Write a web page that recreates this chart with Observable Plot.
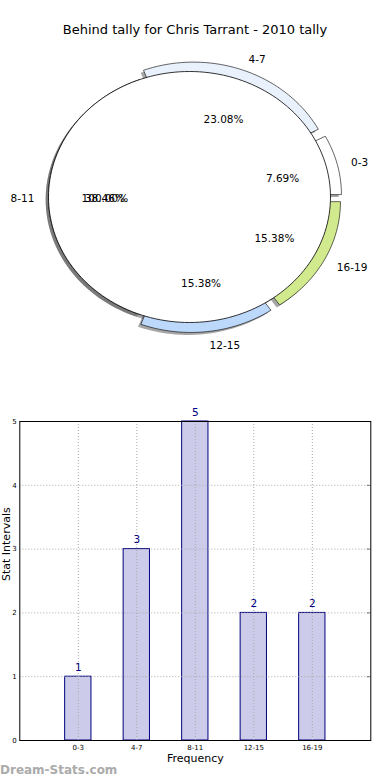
<!DOCTYPE html>
<html>
<head>
<meta charset="utf-8">
<script src="https://cdn.jsdelivr.net/npm/d3@7"></script>
<script src="https://cdn.jsdelivr.net/npm/@observablehq/plot@0.6"></script>
<style>
  html, body { margin: 0; padding: 0; background: #fff; }
  #wrap { position: relative; width: 390px; height: 780px; overflow: hidden; font-family: "DejaVu Sans", sans-serif; }
  #title { position: absolute; left: 0; top: 22px; width: 390px; text-align: center; font-size: 13px; line-height: 16px; color: #000; }
  #pie { position: absolute; left: 0; top: 0; }
  #bar { position: absolute; left: 0; top: 380px; }
  #wm { position: absolute; left: 0; top: 762px; font-size: 12px; font-weight: bold; color: #ababab; line-height: 16px; }
</style>
</head>
<body>
<div id="wrap">
  <div id="pie"></div>
  <div id="title">Behind tally for Chris Tarrant - 2010 tally</div>
  <div id="bar"></div>
  <div id="wm">Dream-Stats.com</div>
</div>
<script>
// ---- data ----
const categories = ["0-3", "4-7", "8-11", "12-15", "16-19"];
const counts = [1, 3, 5, 2, 2];
const yTicks = [0, 1, 2, 3, 4, 5];
const chartTitle = "Behind tally for Chris Tarrant - 2010 tally";
const xLabel = "Frequency";
const yLabel = "Stat Intervals";

// ---- styles ----
const sliceColors = ["#ffffff", "#e9f1fd", "#ffffff", "#bcd8fb", "#d2ea8e"];
const explodeBy = [0.08, 0.08, 0, 0.08, 0.08];
const font = "DejaVu Sans";

// ---- pie geometry (data space, unit radius) ----
const total = d3.sum(counts);
let acc = 0;
const slices = counts.map((c, i) => {
  const t1 = acc / total * 360; acc += c; const t2 = acc / total * 360;
  const mid = (t1 + t2) / 2 * Math.PI / 180;
  const e = explodeBy[i];
  return { i, name: categories[i], c, t1, t2, mid, cx: e * Math.cos(mid), cy: e * Math.sin(mid), pct: (c / total * 100).toFixed(2) + "%" };
});
function wedge(s, ox = 0, oy = 0) {
  const pts = [{x: s.cx + ox, y: s.cy + oy}];
  const n = Math.max(8, Math.ceil((s.t2 - s.t1) / 2));
  for (let k = 0; k <= n; k++) {
    const a = (s.t1 + (s.t2 - s.t1) * k / n) * Math.PI / 180;
    pts.push({x: s.cx + ox + Math.cos(a), y: s.cy + oy + Math.sin(a)});
  }
  pts.push({x: s.cx + ox, y: s.cy + oy});
  return pts;
}
const full = {cx: 0, cy: 0, t1: 0, t2: 360};
const marks = [];
// shadows
slices.forEach(s => marks.push(Plot.line(wedge(s, -0.02, -0.02), {x: "x", y: "y", fill: "#4d4d4d", fillOpacity: 0.5, stroke: "none"})));
marks.push(Plot.line(wedge(full, -0.02, -0.02), {x: "x", y: "y", fill: "#4d4d4d", fillOpacity: 0.5, stroke: "none"}));
// wedges
slices.forEach(s => marks.push(Plot.line(wedge(s), {x: "x", y: "y", fill: sliceColors[s.i], stroke: "#000", strokeWidth: 0.6})));
// overlay full disc
marks.push(Plot.line(wedge(full).slice(1, -1), {x: "x", y: "y", fill: "#fff", stroke: "#000", strokeWidth: 0.8}));
// percentage labels
marks.push(Plot.text(slices, {x: d => d.cx + 0.6 * Math.cos(d.mid), y: d => d.cy + 0.6 * Math.sin(d.mid), text: "pct", fontSize: 10.5, fill: "#000", dy: 2}));
marks.push(Plot.text([{p: "100.00%", a: Math.PI}], {x: d => 0.6 * Math.cos(d.a), y: d => 0.6 * Math.sin(d.a), text: "p", fontSize: 10.5, fill: "#000", dy: 2}));
// category labels
const rightLabels = slices.filter(d => Math.cos(d.mid) >= 0);
const leftLabels = slices.filter(d => Math.cos(d.mid) < 0);
marks.push(Plot.text(rightLabels, {x: d => d.cx + 1.1 * Math.cos(d.mid), y: d => d.cy + 1.1 * Math.sin(d.mid), text: "name", textAnchor: "start", fontSize: 10.5, fill: "#000", dy: 1.5}));
marks.push(Plot.text(leftLabels, {x: d => d.cx + 1.1 * Math.cos(d.mid), y: d => d.cy + 1.1 * Math.sin(d.mid), text: "name", textAnchor: "end", fontSize: 10.5, fill: "#000", dy: 1.5}));

const pie = Plot.plot({
  width: 390, height: 380, margin: 0,
  x: {domain: [-1, 1], range: [48, 330], axis: null},
  y: {domain: [-1, 1], range: [322, 71], axis: null},
  style: {fontFamily: font, background: "transparent", overflow: "visible"},
  marks
});
document.getElementById("pie").appendChild(pie);
document.getElementById("title").textContent = chartTitle;

// ---- bar chart ----
const bars = categories.map((k, i) => ({k, i, pos: i + 1, v: counts[i]}));
const barW = 0.45;
const bar = Plot.plot({
  width: 390, height: 400,
  marginLeft: 19.3, marginRight: 19.7, marginTop: 41, marginBottom: 40,
  x: {type: "linear", domain: [0, 6], axis: null},
  y: {domain: [0, 5], axis: null},
  style: {fontFamily: font, background: "transparent", overflow: "visible"},
  marks: [
    Plot.rectY(bars, {x1: d => d.pos - barW / 2, x2: d => d.pos + barW / 2, y1: 0, y2: "v", fill: "#ccccea", stroke: "#000080", strokeWidth: 1}),
    Plot.gridY(yTicks, {stroke: "#a8a8a8", strokeOpacity: 1, strokeDasharray: "1,2"}),
    Plot.gridX(bars.map(d => d.pos), {stroke: "#a8a8a8", strokeOpacity: 1, strokeDasharray: "1,2"}),
    Plot.ruleY(yTicks, {x1: 5.94, x2: 6, stroke: "#777", strokeWidth: 1}),
    Plot.text(bars, {x: "pos", y: "v", text: d => String(d.v), dy: -9, fill: "#000080", fontSize: 10.5}),
    Plot.axisX(bars.map(d => d.pos), {tickFormat: v => categories[v - 1], tickSize: 0, tickPadding: 5, fontSize: 7, fill: "#000", label: null}),
    Plot.axisY(yTicks, {tickFormat: d3.format("d"), tickSize: 0, tickPadding: 3, fontSize: 7, fill: "#000", label: null}),
    Plot.frame({stroke: "#000", strokeWidth: 1}),
    Plot.text([xLabel], {frameAnchor: "bottom", dy: 21, fontSize: 11, fill: "#000"}),
    Plot.text([yLabel], {frameAnchor: "left", dx: -13, rotate: -90, fontSize: 11, fill: "#000"})
  ]
});
document.getElementById("bar").appendChild(bar);
</script>
</body>
</html>
